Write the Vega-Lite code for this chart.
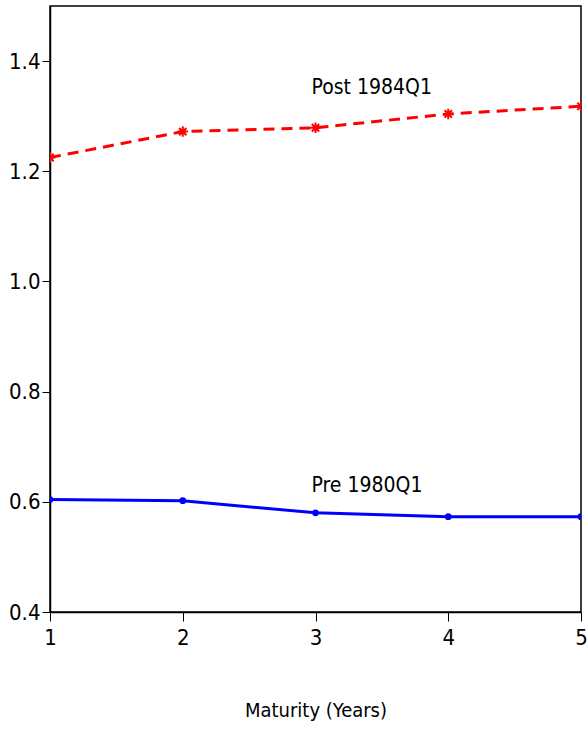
{
  "$schema": "https://vega.github.io/schema/vega-lite/v6.json",
  "autosize": "none",
  "width": 531,
  "height": 606,
  "padding": {"left": 50, "top": 6, "right": 6, "bottom": 120},
  "background": "white",
  "config": {
    "view": {"stroke": "black", "strokeWidth": 1.5},
    "font": "DejaVu Sans Condensed, Liberation Sans, sans-serif"
  },
  "datasets": {
    "series": [
      {"maturity": 1, "value": 1.225, "period": "Post 1984Q1"},
      {"maturity": 2, "value": 1.272, "period": "Post 1984Q1"},
      {"maturity": 3, "value": 1.279, "period": "Post 1984Q1"},
      {"maturity": 4, "value": 1.304, "period": "Post 1984Q1"},
      {"maturity": 5, "value": 1.318, "period": "Post 1984Q1"},
      {"maturity": 1, "value": 0.604, "period": "Pre 1980Q1"},
      {"maturity": 2, "value": 0.602, "period": "Pre 1980Q1"},
      {"maturity": 3, "value": 0.580, "period": "Pre 1980Q1"},
      {"maturity": 4, "value": 0.573, "period": "Pre 1980Q1"},
      {"maturity": 5, "value": 0.573, "period": "Pre 1980Q1"}
    ],
    "labels": [
      {"maturity": 2.97, "value": 1.352, "text": "Post 1984Q1"},
      {"maturity": 2.97, "value": 0.629, "text": "Pre 1980Q1"}
    ]
  },
  "encoding": {
    "x": {
      "field": "maturity", "type": "quantitative",
      "scale": {"domain": [1, 5], "nice": false, "zero": false},
      "axis": {
        "values": [1, 2, 3, 4, 5], "format": "d",
        "title": "Maturity (Years)", "grid": false,
        "domainColor": "black", "domainWidth": 1.5,
        "tickColor": "black", "tickSize": 9, "tickWidth": 1,
        "labelFlush": false, "labelOverlap": false,
        "labelFontSize": 22, "labelColor": "black", "labelPadding": 6,
        "labelFont": "DejaVu Sans Condensed, Liberation Sans, sans-serif",
        "titleFont": "DejaVu Sans Condensed, Liberation Sans, sans-serif",
        "titleFontSize": 20, "titleFontWeight": "normal", "titleColor": "black",
        "titlePadding": 52
      }
    },
    "y": {
      "field": "value", "type": "quantitative",
      "scale": {"domain": [0.4, 1.5], "nice": false, "zero": false},
      "axis": {
        "values": [0.4, 0.6, 0.8, 1.0, 1.2, 1.4], "format": ".1f",
        "title": null, "grid": false,
        "domainColor": "black", "domainWidth": 1.5,
        "tickColor": "black", "tickSize": 8, "tickWidth": 1,
        "labelFlush": false, "labelOverlap": false,
        "labelFontSize": 22, "labelColor": "black", "labelPadding": 2,
        "labelFont": "DejaVu Sans Condensed, Liberation Sans, sans-serif"
      }
    }
  },
  "layer": [
    {
      "data": {"name": "series"},
      "transform": [{"filter": "datum.period === 'Post 1984Q1'"}],
      "mark": {"type": "line", "color": "#FF0000", "strokeWidth": 3, "strokeDash": [11, 7], "clip": true}
    },
    {
      "data": {"name": "series"},
      "transform": [{"filter": "datum.period === 'Post 1984Q1'"}],
      "mark": {"type": "point", "shape": "M-1,0L1,0M0,-1L0,1M-0.7,-0.7L0.7,0.7M-0.7,0.7L0.7,-0.7", "filled": false, "color": "#FF0000", "strokeWidth": 2, "size": 110, "opacity": 1, "clip": true}
    },
    {
      "data": {"name": "series"},
      "transform": [{"filter": "datum.period === 'Pre 1980Q1'"}],
      "mark": {"type": "line", "color": "#0000FF", "strokeWidth": 3, "clip": true}
    },
    {
      "data": {"name": "series"},
      "transform": [{"filter": "datum.period === 'Pre 1980Q1'"}],
      "mark": {"type": "point", "shape": "circle", "filled": true, "color": "#0000FF", "size": 45, "opacity": 1, "clip": true}
    },
    {
      "data": {"name": "labels"},
      "mark": {"type": "text", "align": "left", "baseline": "middle", "fontSize": 21, "font": "DejaVu Sans Condensed, Liberation Sans, sans-serif", "color": "black"},
      "encoding": {"text": {"field": "text"}}
    }
  ]
}
